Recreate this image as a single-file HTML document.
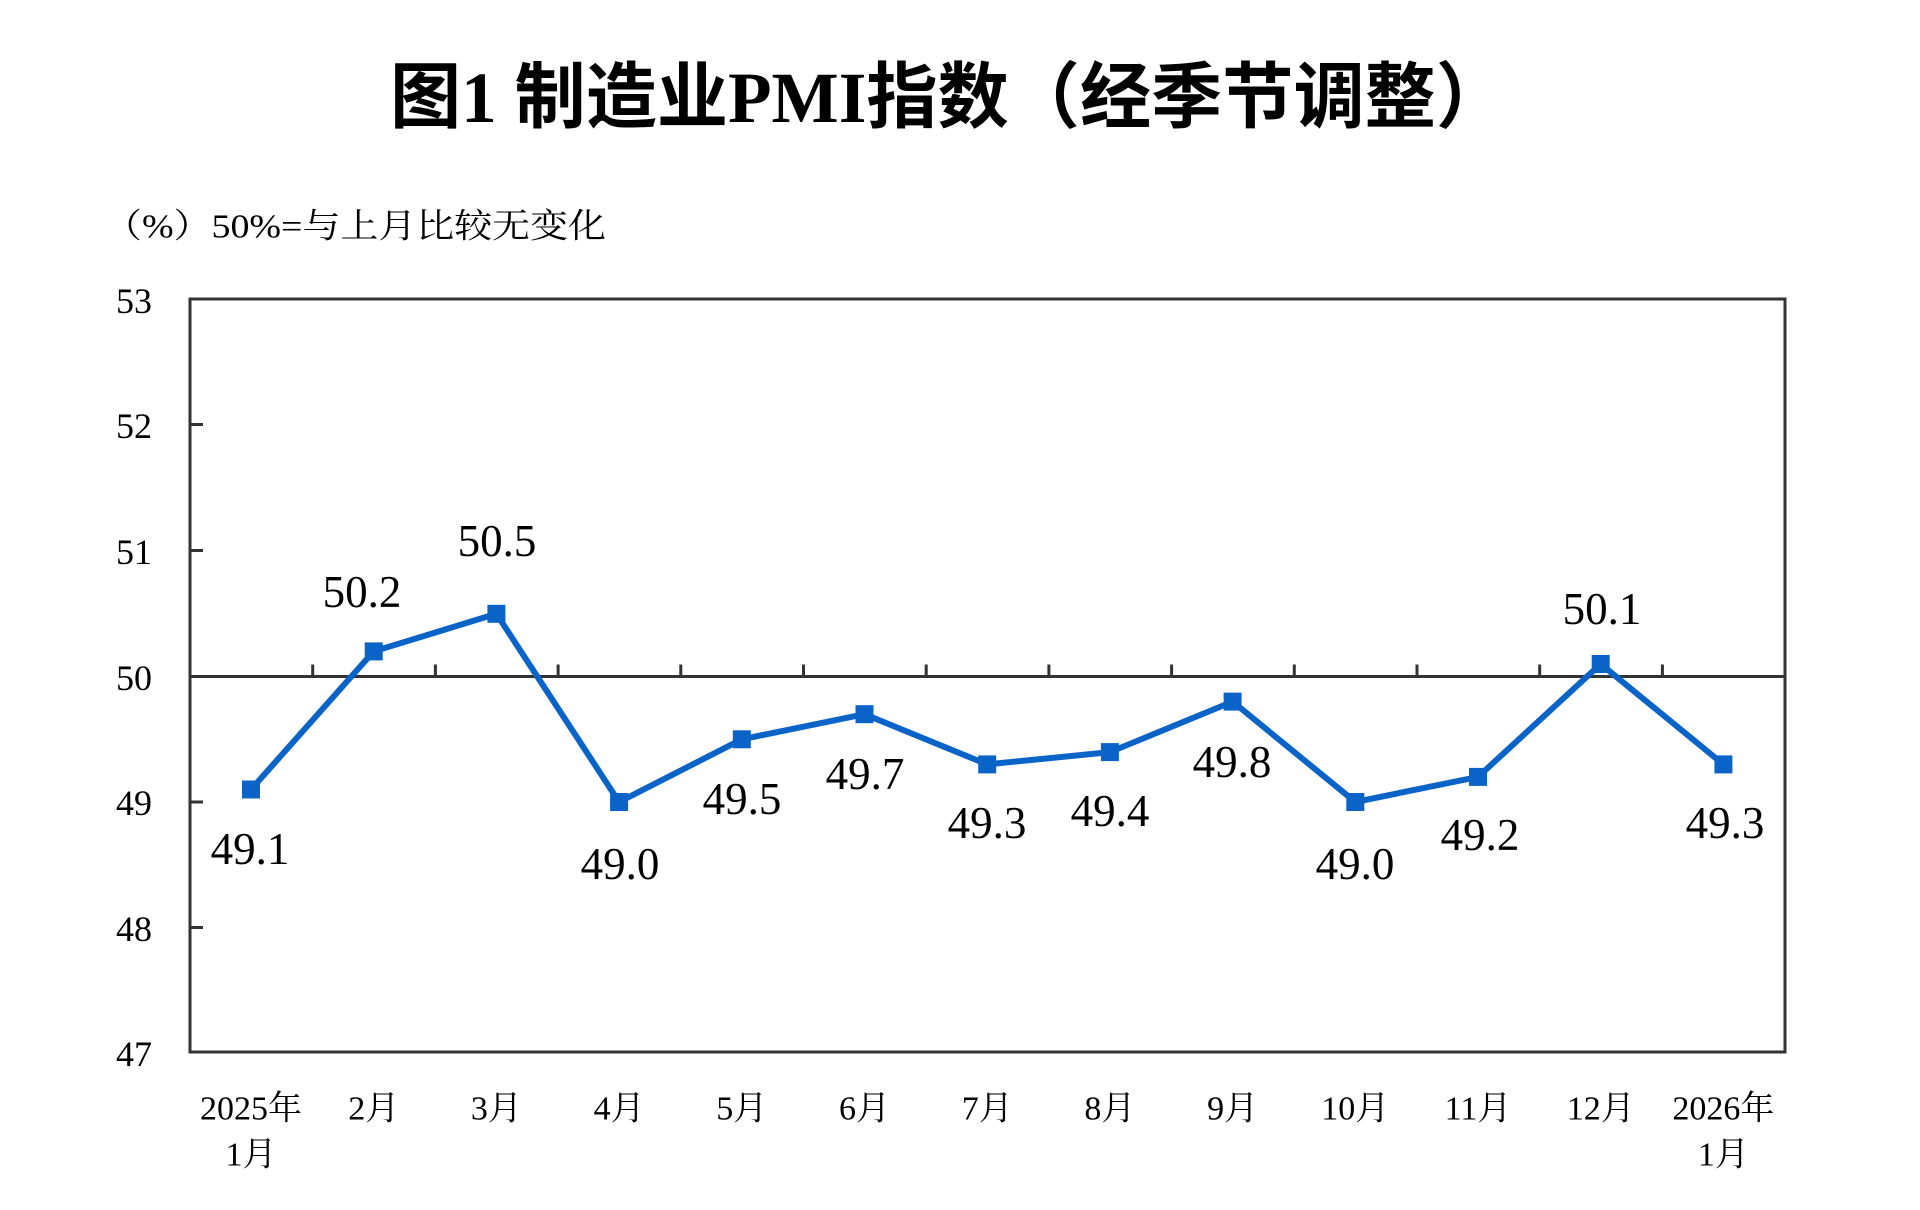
<!DOCTYPE html>
<html><head><meta charset="utf-8"><style>
html,body{margin:0;padding:0;background:#fff;}
svg{display:block;}
text{font-family:"Liberation Serif","Noto Serif CJK SC",serif;fill:#000;}
</style></head><body>
<svg width="1920" height="1210" viewBox="0 0 1920 1210" xmlns="http://www.w3.org/2000/svg">
<text x="390" y="98" dominant-baseline="central" font-size="72" font-weight="bold" textLength="1117" lengthAdjust="spacingAndGlyphs" style='font-family:"Liberation Serif","Noto Sans CJK SC",sans-serif'>图1 制造业PMI指数（经季节调整）</text>
<text x="104" y="227" dominant-baseline="central" font-size="34" textLength="502" lengthAdjust="spacingAndGlyphs">（%）50%=与上月比较无变化</text>
<g stroke="#333" stroke-width="3" fill="none">
<rect x="190" y="299" width="1595" height="753"/>
<line x1="190" y1="676.5" x2="1785" y2="676.5"/>
<line x1="190" y1="424.5" x2="203" y2="424.5"/>
<line x1="190" y1="550.5" x2="203" y2="550.5"/>
<line x1="190" y1="802" x2="203" y2="802"/>
<line x1="190" y1="927.5" x2="203" y2="927.5"/>
<path d="M312.7 676.5v-12M435.4 676.5v-12M558.1 676.5v-12M680.8 676.5v-12M803.5 676.5v-12M926.2 676.5v-12M1048.9 676.5v-12M1171.6 676.5v-12M1294.3 676.5v-12M1417 676.5v-12M1539.7 676.5v-12M1662.4 676.5v-12"/>
</g>
<g font-size="36" text-anchor="end" dominant-baseline="central">
<text x="152" y="301">53</text><text x="152" y="426">52</text><text x="152" y="552">51</text><text x="152" y="678">50</text><text x="152" y="803">49</text><text x="152" y="929">48</text><text x="152" y="1054">47</text>
</g>
<polyline fill="none" stroke="#0a64c8" stroke-width="6" stroke-linejoin="round" points="251,789.5 373.7,651.4 496.4,613.8 619.1,802 741.8,739.3 864.5,714.2 987.2,764.4 1109.9,752.1 1232.6,701.6 1355.3,802 1478,776.9 1600.7,664 1723.4,764.4"/>
<g fill="#0a64c8">
<rect x="242" y="780.5" width="18" height="18"/><rect x="364.7" y="642.4" width="18" height="18"/><rect x="487.4" y="604.8" width="18" height="18"/><rect x="610.1" y="793" width="18" height="18"/><rect x="732.8" y="730.3" width="18" height="18"/><rect x="855.5" y="705.2" width="18" height="18"/><rect x="978.2" y="755.4" width="18" height="18"/><rect x="1100.9" y="743.1" width="18" height="18"/><rect x="1223.6" y="692.6" width="18" height="18"/><rect x="1346.3" y="793" width="18" height="18"/><rect x="1469" y="767.9" width="18" height="18"/><rect x="1591.7" y="655" width="18" height="18"/><rect x="1714.4" y="755.4" width="18" height="18"/>
</g>
<g font-size="45" text-anchor="middle" dominant-baseline="central">
<text x="250" y="849">49.1</text><text x="362" y="592">50.2</text><text x="497" y="541">50.5</text><text x="620" y="864">49.0</text><text x="742" y="799">49.5</text><text x="865" y="774">49.7</text><text x="987" y="823">49.3</text><text x="1110" y="811">49.4</text><text x="1232" y="762">49.8</text><text x="1355" y="864">49.0</text><text x="1480" y="835">49.2</text><text x="1602" y="609">50.1</text><text x="1725" y="823">49.3</text>
</g>
<g font-size="34" text-anchor="middle" dominant-baseline="central">
<text x="251" y="1109">2025年</text><text x="251" y="1155">1月</text>
<text x="373.7" y="1109">2月</text><text x="496.4" y="1109">3月</text><text x="619.1" y="1109">4月</text><text x="741.8" y="1109">5月</text><text x="864.5" y="1109">6月</text><text x="987.2" y="1109">7月</text><text x="1109.9" y="1109">8月</text><text x="1232.6" y="1109">9月</text><text x="1355.3" y="1109">10月</text><text x="1478" y="1109">11月</text><text x="1600.7" y="1109">12月</text>
<text x="1723.4" y="1109">2026年</text><text x="1723.4" y="1155">1月</text>
</g>
</svg>
</body></html>
